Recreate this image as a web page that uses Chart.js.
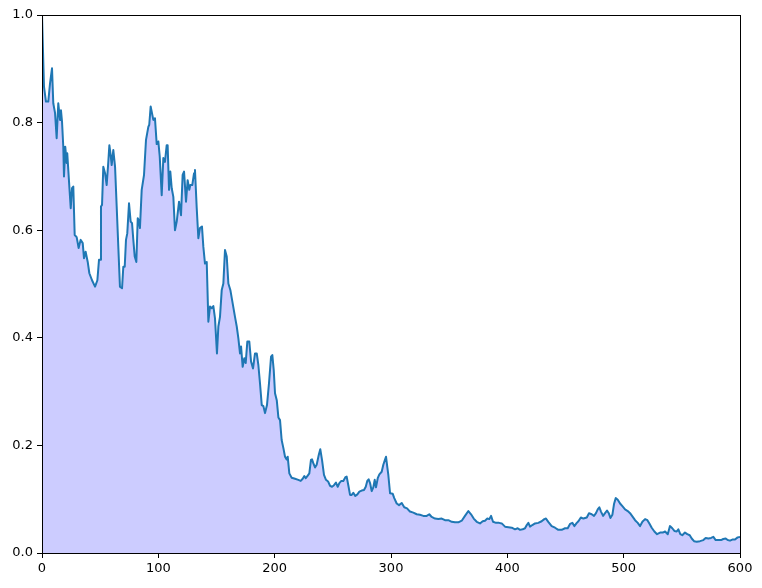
<!DOCTYPE html>
<html>
<head>
<meta charset="utf-8">
<script src="https://cdn.jsdelivr.net/npm/chart.js@4"></script>
<style>
    html, body { margin: 0; padding: 0; background: #ffffff; }
    #chart { display: block; }
</style>
</head>
<body>
<canvas id="chart" width="762" height="588"></canvas>
<script>
// values
const xValues = [
    0, 1.7, 3.4, 5.4, 6.9, 8.6, 9.7, 11.2, 12.6, 14, 15.5, 16.3, 17.2, 18.3, 18.9, 20, 21.2, 21.7, 23.5, 24.7,
    25.8, 26.9, 28.1, 29.8, 31.5, 33.2, 35, 36.1, 37.5, 39.3, 40.7, 43, 45.6, 47.6, 49, 49.9, 50.7, 51.6, 52.7, 54.2,
    55.6, 57, 57.9, 59, 59.9, 61.3, 62.8, 64.2, 65.6, 67, 68.8, 69.9, 71.1, 72.2, 73.3, 74.8, 76.2, 77.4, 78.5, 79.7,
    81.1, 82.3, 83.1, 84.2, 85.7, 87.7, 89.4, 91.4, 92.2, 93.4, 95.7, 97.1, 98.6, 100, 101.2, 102.9, 104.3, 105.7, 107.2, 108,
    109.2, 110.3, 111.5, 112.9, 114.3, 115.8, 117.8, 119.5, 120.9, 122.1, 123.8, 125.2, 126.6, 127.5, 129.2, 130.7, 131.5, 133, 134.4, 135.8,
    137.5, 138.7, 140.1, 141.6, 143, 144.4, 145.9, 147.3, 148.7, 150.4, 151.6, 153, 154.5, 155.9, 157.3, 158.8, 160.2, 161.9, 163.9, 165.9,
    167.4, 168.8, 170.2, 171.1, 172.5, 173.9, 175.1, 176.5, 178.2, 179.7, 181.4, 183.1, 184.6, 186, 187.4, 188.9, 190.3, 191.7, 193.4, 195.1,
    196.9, 198, 199.2, 200.3, 201.8, 203.2, 204.6, 206, 207.5, 208.9, 210.3, 211.2, 212.6, 214.6, 217.5, 220.3, 222.4, 224.1, 225.5, 226.7,
    228.1, 229.8, 231.2, 232.1, 233.2, 234.7, 236.1, 237.9, 239.2, 240.7, 242.4, 244.1, 245.9, 247.6, 249.3, 251, 252.7, 254.2, 255.6, 257.3,
    259, 260.8, 261.9, 263.3, 264.8, 266.2, 267.6, 269.3, 271.1, 272.8, 274.8, 276.8, 278.3, 279.6, 280.8, 282, 283.4, 284.8, 286, 287.1,
    288.6, 290, 292, 293.4, 294.8, 295.7, 296.8, 297.7, 299.2, 301.5, 302.8, 304.9, 306.9, 309.2, 311.4, 313.8, 316.3, 319.2, 322.1, 324.9,
    327.8, 330.7, 332.9, 335, 337.8, 340.7, 343.6, 346.4, 349.3, 352.2, 355, 357.9, 360.8, 363.6, 366.5, 368.8, 371.1, 373.7, 376.5, 378.8,
    380.8, 382.8, 384.5, 386, 387.7, 390.3, 392.9, 395.2, 398, 400.9, 403.8, 406.6, 408.9, 410.9, 413.2, 415.2, 416.7, 418.1, 419.5, 421.5,
    423.8, 426.6, 429.5, 431.8, 433.2, 435.2, 438.1, 441, 443.8, 446.7, 449.6, 451.9, 453.9, 455.9, 457.6, 459.7, 461.1, 463.2, 465.4, 468.3,
    470.2, 472.5, 474.5, 476.2, 477.7, 479.1, 480.5, 482.3, 484, 485.7, 487.2, 488.6, 490.3, 491.7, 493.2, 494.9, 496.9, 498.9, 501.2, 503.5,
    505.5, 507.5, 509.8, 512.1, 514.1, 516.1, 518.4, 520.4, 522.1, 524.1, 526.4, 528.7, 531.3, 533.6, 535.6, 537.9, 539.8, 541.8, 543.6, 545.6,
    547, 548.7, 550.4, 552.7, 554.7, 556.8, 558.5, 560.5, 562.8, 565.6, 568.5, 570.5, 572.8, 575.1, 577.1, 579.1, 581.4, 583.7, 585.6, 587.7,
    589.4, 591.4, 593.4, 595.7, 598, 600
];

const yValues = [
    1.0, 0.867, 0.839, 0.839, 0.873, 0.901, 0.836, 0.818, 0.771, 0.836, 0.805, 0.823, 0.802, 0.755, 0.700, 0.755, 0.725, 0.743, 0.681, 0.641,
    0.678, 0.681, 0.591, 0.587, 0.567, 0.582, 0.576, 0.548, 0.560, 0.541, 0.520, 0.507, 0.495, 0.507, 0.545, 0.545, 0.644, 0.647, 0.718, 0.706,
    0.684, 0.727, 0.758, 0.740, 0.721, 0.749, 0.718, 0.644, 0.569, 0.495, 0.492, 0.532, 0.532, 0.582, 0.594, 0.650, 0.616, 0.613, 0.582, 0.551,
    0.541, 0.622, 0.619, 0.604, 0.675, 0.703, 0.768, 0.792, 0.796, 0.830, 0.805, 0.808, 0.760, 0.765, 0.737, 0.665, 0.734, 0.727, 0.758, 0.758,
    0.675, 0.709, 0.678, 0.662, 0.600, 0.616, 0.653, 0.628, 0.703, 0.709, 0.653, 0.693, 0.675, 0.684, 0.684, 0.706, 0.712, 0.641, 0.585, 0.604,
    0.607, 0.569, 0.538, 0.541, 0.430, 0.458, 0.455, 0.459, 0.436, 0.371, 0.421, 0.439, 0.489, 0.501, 0.563, 0.551, 0.501, 0.489, 0.464, 0.439,
    0.421, 0.399, 0.371, 0.384, 0.346, 0.362, 0.353, 0.393, 0.393, 0.356, 0.343, 0.371, 0.371, 0.349, 0.315, 0.275, 0.273, 0.260, 0.275, 0.315,
    0.365, 0.368, 0.340, 0.297, 0.284, 0.252, 0.247, 0.210, 0.195, 0.179, 0.174, 0.179, 0.148, 0.140, 0.138, 0.136, 0.134, 0.138, 0.143, 0.139,
    0.143, 0.148, 0.173, 0.174, 0.167, 0.159, 0.164, 0.182, 0.193, 0.173, 0.145, 0.136, 0.133, 0.125, 0.123, 0.126, 0.131, 0.123, 0.130, 0.134,
    0.134, 0.141, 0.142, 0.126, 0.108, 0.108, 0.112, 0.106, 0.109, 0.114, 0.116, 0.117, 0.123, 0.134, 0.137, 0.130, 0.115, 0.122, 0.136, 0.122,
    0.139, 0.146, 0.151, 0.164, 0.173, 0.179, 0.160, 0.145, 0.111, 0.110, 0.102, 0.092, 0.089, 0.093, 0.085, 0.083, 0.077, 0.075, 0.072, 0.071,
    0.069, 0.069, 0.072, 0.067, 0.064, 0.063, 0.064, 0.061, 0.061, 0.058, 0.057, 0.057, 0.060, 0.069, 0.078, 0.072, 0.064, 0.058, 0.055, 0.059,
    0.060, 0.064, 0.063, 0.069, 0.058, 0.056, 0.056, 0.055, 0.049, 0.048, 0.047, 0.044, 0.046, 0.043, 0.044, 0.046, 0.052, 0.056, 0.049, 0.052,
    0.055, 0.056, 0.059, 0.063, 0.064, 0.058, 0.050, 0.047, 0.043, 0.043, 0.046, 0.046, 0.054, 0.056, 0.050, 0.056, 0.059, 0.066, 0.064, 0.066,
    0.074, 0.072, 0.069, 0.074, 0.081, 0.085, 0.077, 0.069, 0.074, 0.079, 0.074, 0.065, 0.071, 0.091, 0.102, 0.099, 0.092, 0.087, 0.081, 0.078,
    0.074, 0.068, 0.061, 0.056, 0.050, 0.058, 0.063, 0.061, 0.055, 0.047, 0.040, 0.035, 0.038, 0.038, 0.040, 0.035, 0.050, 0.046, 0.041, 0.040,
    0.044, 0.035, 0.033, 0.038, 0.035, 0.033, 0.027, 0.022, 0.021, 0.022, 0.024, 0.028, 0.027, 0.028, 0.030, 0.024, 0.024, 0.024, 0.026, 0.027,
    0.024, 0.023, 0.025, 0.025, 0.029, 0.030
];

const xTicks = [0, 100, 200, 300, 400, 500, 600];
const yTicks = [0.0, 0.2, 0.4, 0.6, 0.8, 1.0];

const points = xValues.map((x, i) => ({ x: x, y: yValues[i] }));

// matplotlib-style frame drawn on top of the data
const framePlugin = {
    id: 'frame',
    afterDatasetsDraw(chart) {
        const { ctx, chartArea } = chart;
        ctx.save();
        ctx.strokeStyle = '#000000';
        ctx.lineWidth = 1;
        ctx.strokeRect(chartArea.left + 0.5, chartArea.top + 0.5,
            chartArea.right - chartArea.left, chartArea.bottom - chartArea.top);
        ctx.restore();
    }
};

const tickFont = { family: 'DejaVu Sans', size: 13 };

new Chart(document.getElementById('chart').getContext('2d'), {
    type: 'line',
    data: {
        datasets: [{
            data: points,
            borderColor: '#1f77b4',
            borderWidth: 2,
            borderJoinStyle: 'round',
            backgroundColor: 'rgba(0, 0, 255, 0.2)',
            fill: 'origin',
            pointRadius: 0,
            tension: 0
        }]
    },
    options: {
        responsive: false,
        animation: false,
        layout: { padding: { top: 15, right: 22, left: 0, bottom: 0 } },
        plugins: {
            legend: { display: false },
            tooltip: { enabled: false }
        },
        scales: {
            x: {
                type: 'linear',
                min: 0,
                max: 600,
                afterBuildTicks: (scale) => { scale.ticks = xTicks.map(v => ({ value: v })); },
                afterFit: (scale) => { scale.height = 35; },
                ticks: {
                    color: '#000000',
                    font: tickFont,
                    padding: 3,
                    maxRotation: 0,
                    callback: (v) => String(v)
                },
                grid: { drawOnChartArea: false, drawTicks: true, tickLength: 5, color: '#000000' },
                border: { display: true, color: '#000000', width: 1 }
            },
            y: {
                type: 'linear',
                min: 0,
                max: 1,
                afterBuildTicks: (scale) => { scale.ticks = yTicks.map(v => ({ value: v })); },
                afterFit: (scale) => { scale.width = 42; },
                ticks: {
                    color: '#000000',
                    font: tickFont,
                    padding: 4,
                    callback: (v) => Number(v).toFixed(1)
                },
                grid: { drawOnChartArea: false, drawTicks: true, tickLength: 5, color: '#000000' },
                border: { display: true, color: '#000000', width: 1 }
            }
        }
    },
    plugins: [framePlugin]
});
</script>
</body>
</html>
